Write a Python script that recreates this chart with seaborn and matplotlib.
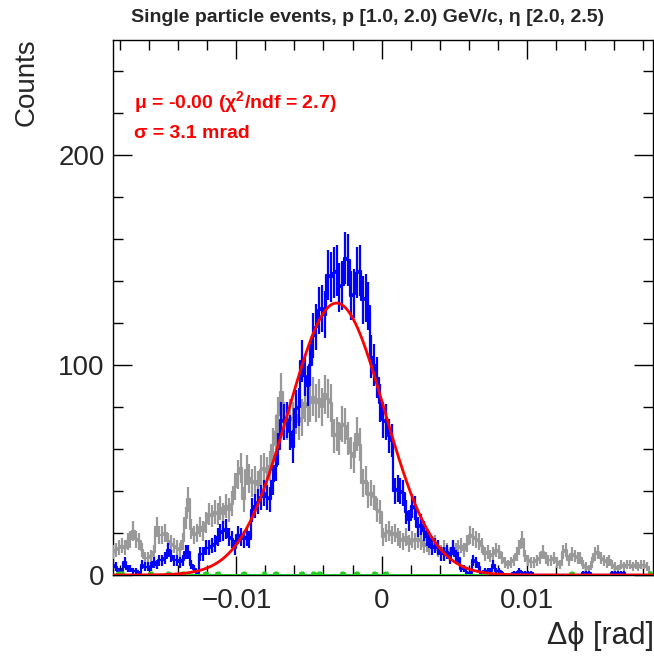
import numpy as np
import pandas as pd
import matplotlib
matplotlib.use("Agg")
import matplotlib.pyplot as plt
from matplotlib.ticker import MultipleLocator, FixedLocator, FixedFormatter
import seaborn as sns

# ---------------- data ----------------
bin_width = 0.0002
first_edge = -0.0186
n_bins = 186

gray_counts = [
    11, 12, 13, 14, 13, 16, 17, 21, 17, 16,
    12, 8, 8, 9, 11, 23, 19, 19, 20, 16,
    15, 14, 13, 12, 16, 27, 36, 22, 19, 20,
    23, 21, 25, 29, 28, 30, 29, 32, 29, 33,
    31, 34, 42, 48, 51, 36, 50, 46, 44, 45,
    43, 50, 51, 49, 52, 62, 68, 76, 87, 74,
    73, 75, 74, 76, 73, 75, 82, 80, 82, 85,
    82, 84, 80, 86, 84, 82, 66, 67, 65, 72,
    71, 65, 58, 56, 67, 62, 44, 45, 38, 39,
    37, 31, 30, 18, 20, 21, 19, 20, 18, 17,
    16, 18, 15, 17, 16, 17, 16, 14, 15, 13,
    14, 15, 12, 11, 13, 12, 10, 13, 12, 13,
    14, 12, 15, 19, 18, 17, 16, 14, 10, 11,
    9, 10, 12, 11, 8, 6, 5, 6, 7, 10,
    13, 17, 9, 7, 6, 6, 7, 8, 11, 8,
    7, 7, 8, 6, 5, 11, 12, 7, 10, 9,
    8, 8, 5, 4, 3, 6, 10, 11, 8, 7,
    6, 7, 5, 4, 3, 5, 4, 5, 5, 4,
    5, 4, 5, 5, 4, 1,
]

blue_counts = [
    5, 4, 2, 2, 6, 3, 3, 2, 2, 1,
    5, 4, 4, 4, 6, 5, 7, 7, 8, 12,
    9, 7, 7, 6, 7, 11, 11, 5, 3, 1,
    10, 10, 13, 13, 14, 15, 18, 20, 21, 22,
    18, 17, 13, 19, 18, 17, 18, 17, 31, 33,
    35, 37, 39, 37, 36, 45, 52, 60, 74, 73,
    74, 68, 61, 79, 80, 102, 95, 90, 100, 114,
    118, 126, 127, 124, 143, 142, 144, 145, 137, 138,
    151, 150, 133, 134, 144, 145, 131, 132, 128, 104,
    100, 94, 82, 74, 73, 66, 64, 40, 41, 40,
    39, 30, 26, 33, 32, 23, 24, 21, 18, 17,
    13, 14, 13, 10, 10, 11, 8, 13, 9, 8,
    3, 3, 1, 1, 7, 6, 4, 1, 2, 2,
    2, 5, 2, 2, 1, 0, 0, 0, 1, 1,
    2, 1, 1, 1, 1, 0, 0, 0, 0, 0,
    0, 0, 0, 0, 0, 0, 0, 0, 0, 0,
    0, 0, 1, 1, 1, 0, 0, 0, 0, 0,
    0, 0, 1, 1, 1, 1, 1, 0, 0, 0,
    0, 0, 0, 0, 0, 0,
]

green_bins = [2, 3, 13, 19, 24, 32, 36, 45, 52, 56, 65, 69, 71, 79, 84, 90, 94, 158, 185]
green_vals = [1, 1, 1, 1, 1, 1, 1, 1, 1, 1, 1, 1, 1, 1, 1, 1, 1, 1, 1]

fit_amplitude = 129.5
fit_mean = -0.0031
fit_sigma = 0.0033

x_ticks = [-0.01, 0.0, 0.01]
x_tick_labels = ["\u22120.01", "0", "0.01"]
y_ticks = [0, 100, 200]
y_tick_labels = ["0", "100", "200"]

title_text = "Single particle events, p [1.0, 2.0) GeV/c, \u03b7 [2.0, 2.5)"
fit_text_1 = "\u03bc = -0.00 (\u03c7$^{2}$/ndf = 2.7)"
fit_text_2 = "\u03c3 = 3.1 mrad"

# ---------------- build ----------------
edges = first_edge + bin_width * np.arange(n_bins + 1)
centers = 0.5 * (edges[:-1] + edges[1:])
gray = np.array(gray_counts, dtype=float)
blue = np.array(blue_counts, dtype=float)
green = np.zeros(n_bins)
green[np.array(green_bins)] = green_vals
assert len(gray) == n_bins and len(blue) == n_bins

df = pd.DataFrame({"x": centers, "gray": gray, "blue": blue, "green": green})

sns.set_style("ticks")
plt.rcParams["font.family"] = ["Liberation Sans", "DejaVu Sans"]
plt.rcParams["mathtext.fontset"] = "custom"
plt.rcParams["mathtext.rm"] = "Liberation Sans:bold"
plt.rcParams["mathtext.default"] = "rm"

W, H = 654, 658
fig = plt.figure(figsize=(W / 100, H / 100), dpi=100)
ax = fig.add_axes([113 / W, 1 - 575 / H, 540 / W, (575 - 39.5) / H])

GRAY = "#999999"
BLUE = "#0000ff"
GREEN = "#22cc22"
RED = "#ff0000"
LW = 1.6

def draw_hist(col, color, z, lw=LW):
    sns.histplot(data=df, x="x", weights=col, bins=n_bins,
                 binrange=(edges[0], edges[-1]), element="step",
                 fill=False, color=color, linewidth=lw, ax=ax, zorder=z)
    vals = df[col].values
    m = vals > 0
    ax.errorbar(df["x"].values[m], vals[m], yerr=np.sqrt(vals[m]), fmt="none",
                ecolor=color, elinewidth=lw, capsize=0, zorder=z)

draw_hist("gray", GRAY, 2)
draw_hist("blue", BLUE, 3)
draw_hist("green", GREEN, 4, lw=2.2)

xs = np.linspace(-0.0187, 0.0188, 600)
ys = fit_amplitude * np.exp(-0.5 * ((xs - fit_mean) / fit_sigma) ** 2)
sns.lineplot(x=xs, y=ys, color=RED, linewidth=2.0, ax=ax, zorder=5)

ax.set_xlim(-0.0185, 0.0187)
ax.set_ylim(0, 255)
ax.set_xlabel("")
ax.set_ylabel("")

ax.xaxis.set_major_locator(FixedLocator(x_ticks))
ax.xaxis.set_major_formatter(FixedFormatter(x_tick_labels))
ax.xaxis.set_minor_locator(MultipleLocator(0.002))
ax.yaxis.set_major_locator(FixedLocator(y_ticks))
ax.yaxis.set_major_formatter(FixedFormatter(y_tick_labels))
ax.yaxis.set_minor_locator(MultipleLocator(20))

ax.tick_params(which="both", direction="in", top=True, right=True,
               width=1, color="black")
ax.tick_params(which="major", length=14, labelsize=20)
ax.tick_params(axis="x", which="major", pad=9)
ax.tick_params(axis="y", which="major", pad=6)
ax.tick_params(which="minor", length=7)
for s in ax.spines.values():
    s.set_visible(True)
    s.set_linewidth(1.0)
    s.set_color("black")
    s.set_zorder(1)

fig.text(368 / W, 1 - 18 / H, title_text, ha="center", va="center",
         fontsize=14, fontweight="bold")
fig.text(27 / W, 1 - 38 / H, "Counts", rotation=90, ha="center", va="top",
         fontsize=20)
fig.text(654 / W, 1 - 636 / H, "\u0394\u03d5 [rad]", ha="right", va="center",
         fontsize=22)
fig.text(134 / W, 1 - 102 / H, fit_text_1, ha="left", va="center",
         fontsize=14, fontweight="bold", color=RED)
fig.text(134 / W, 1 - 134 / H, fit_text_2, ha="left", va="center",
         fontsize=14, fontweight="bold", color=RED)

fig.savefig("out.png", dpi=100)
